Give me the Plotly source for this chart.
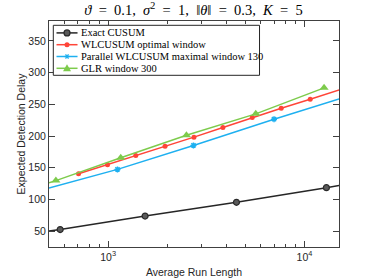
import plotly.graph_objects as go

# ---- data ----
series_names = ["Exact CUSUM", "WLCUSUM optimal window",
                "Parallel WLCUSUM maximal window 130", "GLR window 300"]

cusum_arl = [500, 570, 1543, 4506, 12940, 15000]
cusum_edd = [50.5, 52.7, 74.0, 95.6, 118.7, 122.3]
cusum_marks = [1, 2, 3, 4]

wl_arl = [707, 993, 1383, 1950, 2737, 3844, 5422, 7616, 10700, 15030]
wl_edd = [140.7, 154.9, 169.5, 184.1, 198.3, 213.5, 229.2, 243.9, 258.0, 272.8]
wl_marks = list(range(10))

par_arl = [500, 1116, 2721, 7000, 15000]
par_edd = [118.0, 147.5, 185.2, 226.6, 258.6]
par_marks = [1, 2, 3]

glr_arl = [500, 542, 1160, 2506, 5650, 12590]
glr_edd = [126.2, 129.8, 165.9, 201.4, 235.0, 276.0]
glr_marks = [1, 2, 3, 4, 5]

x_tick_vals = [1000, 10000]
x_tick_text = ["10<sup>3</sup>", "10<sup>4</sup>"]
x_minor_vals = [600, 700, 800, 900, 2000, 3000, 4000, 5000, 6000, 7000, 8000, 9000]
y_tick_vals = [50, 100, 150, 200, 250, 300, 350]

styles = [
    dict(color="#262626", symbol="circle", size=6, mcolor="#5a5a5a", mline="#2a2a2a", mlw=1.2),
    dict(color="#ff4538", symbol="circle", size=5, mcolor="#ff4538", mline="#ff4538", mlw=0),
    dict(color="#1eb0f0", symbol="asterisk-open", size=5, mcolor="#1eb0f0", mline="#1eb0f0", mlw=1.5),
    dict(color="#7dcb4c", symbol="triangle-up", size=8, mcolor="#7dcb4c", mline="#7dcb4c", mlw=0),
]

all_series = [(cusum_arl, cusum_edd, cusum_marks),
              (wl_arl, wl_edd, wl_marks),
              (par_arl, par_edd, par_marks),
              (glr_arl, glr_edd, glr_marks)]

fig = go.Figure()
for name, (xs, ys, marks), st in zip(series_names, all_series, styles):
    marker = dict(symbol=st["symbol"], size=st["size"], color=st["mcolor"],
                  line=dict(color=st["mline"], width=st["mlw"]))
    fig.add_trace(go.Scatter(x=xs, y=ys, mode="lines", name=name,
                             line=dict(color=st["color"], width=1.5),
                             showlegend=False, hoverinfo="skip", cliponaxis=True))
    fig.add_trace(go.Scatter(x=[xs[i] for i in marks], y=[ys[i] for i in marks],
                             mode="markers", marker=marker, showlegend=False, name=name,
                             cliponaxis=False))

# ---- layout geometry (pixels) ----
W, H = 374, 280
L, T, R, B = 49, 20.7, 338.7, 246.7
PW, PH = R - L, B - T


def px(x):
    return (x - L) / PW


def py(y):
    return (B - y) / PH


# ---- hand-built compact legend (MATLAB style) ----
shapes = []
annotations = []
shapes.append(dict(type="rect", xref="paper", yref="paper",
                   x0=px(53.3), x1=px(259.3), y0=py(75), y1=py(25),
                   line=dict(color="#262626", width=1), fillcolor="white", layer="above"))
row_y = [32.6, 44.4, 56.2, 68.0]
seg_x0, seg_x1, text_x = 56.5, 77.5, 79.0
for name, st, yy in zip(series_names, styles, row_y):
    shapes.append(dict(type="line", xref="paper", yref="paper",
                       x0=px(seg_x0), x1=px(seg_x1), y0=py(yy), y1=py(yy),
                       line=dict(color=st["color"], width=1.5), layer="above"))
    cx = px((seg_x0 + seg_x1) / 2)
    cy = py(yy)
    base = dict(xref="paper", yref="paper", xsizemode="pixel", ysizemode="pixel",
                xanchor=cx, yanchor=cy, layer="above")
    if st["symbol"] == "circle":
        r = st["size"] / 2
        shapes.append(dict(type="circle", x0=-r, x1=r, y0=-r, y1=r,
                           fillcolor=st["mcolor"],
                           line=dict(color=st["mline"], width=st["mlw"]), **base))
    elif st["symbol"] == "triangle-up":
        shapes.append(dict(type="path", path="M-4,-3L4,-3L0,4Z",
                           fillcolor=st["mcolor"], line=dict(color=st["mcolor"], width=0),
                           **base))
    else:
        for p in ["M-2.5,0L2.5,0", "M-1.5,-2.2L1.5,2.2", "M-1.5,2.2L1.5,-2.2"]:
            shapes.append(dict(type="path", path=p,
                               line=dict(color=st["mcolor"], width=1.3), **base))
    annotations.append(dict(xref="paper", yref="paper", x=px(text_x), y=py(yy),
                            xanchor="left", yanchor="middle", showarrow=False,
                            text=name,
                            font=dict(family="Liberation Serif, Times New Roman, serif",
                                      size=10.5, color="black")))

axis_col = "#404040"
tick_font = dict(family="Liberation Sans, Arial, sans-serif", size=10.5, color="#262626")
s2 = "&nbsp;&nbsp;"
title_text = ("<i>ϑ</i>" + s2 + "=" + s2 + "0.1," + s2 + "<i>σ</i><sup>2</sup>" + s2 + "=" + s2 +
              "1," + s2 + "‖<i>θ</i>‖" + s2 + "=" + s2 + "0.3," + s2 + "<i>K</i>" + s2 + "=" + s2 + "5")

fig.update_layout(
    template="none",
    width=W, height=H,
    margin=dict(l=L, r=W - R, t=T, b=H - B, pad=0, autoexpand=False),
    paper_bgcolor="white", plot_bgcolor="white",
    showlegend=False,
    title=dict(text=title_text, automargin=False,
               x=193.5 / W, xanchor="center", y=1 - 10 / H, yanchor="middle",
               font=dict(family="Liberation Serif, Times New Roman, serif", size=14.5, color="black")),
    xaxis=dict(type="log", range=[2.69897, 4.176091], automargin=False,
               tickvals=x_tick_vals, ticktext=x_tick_text,
               ticks="inside", ticklen=6, tickcolor=axis_col, tickwidth=1,
               showline=True, linecolor=axis_col, linewidth=1, mirror="allticks",
               showgrid=False, zeroline=False, tickfont=tick_font,
               minor=dict(ticks="inside", ticklen=3, tickcolor=axis_col, showgrid=False,
                          tickvals=x_minor_vals),
               title=dict(text="Average Run Length", font=tick_font, standoff=7)),
    yaxis=dict(range=[25.2, 381.3], tickvals=y_tick_vals, automargin=False,
               ticks="inside", ticklen=6, tickcolor=axis_col, tickwidth=1,
               showline=True, linecolor=axis_col, linewidth=1, mirror="allticks",
               showgrid=False, zeroline=False, tickfont=tick_font,
               title=dict(text="Expected Detection Delay", font=tick_font, standoff=0)),
    shapes=shapes,
    annotations=annotations,
)

fig.write_html("out.html", config={"displayModeBar": False},
               post_script="document.body.style.margin='0';")
